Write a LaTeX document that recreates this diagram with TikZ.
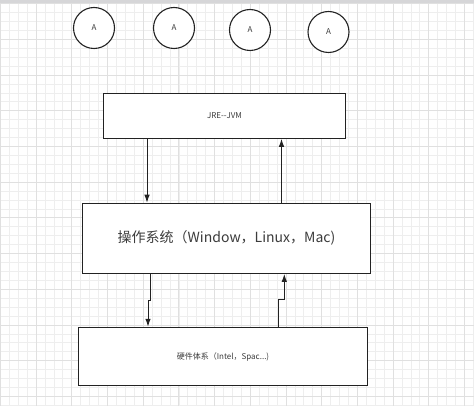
\documentclass[tikz,border=0pt]{standalone}
\usepackage{fontspec}
\setmainfont{Noto Sans CJK SC}
\usetikzlibrary{arrows.meta}
\definecolor{gridminor}{RGB}{238,238,238}
\definecolor{gridmajor}{RGB}{224,224,224}
\definecolor{topbar}{RGB}{214,214,216}
\definecolor{ink}{RGB}{34,34,34}
\definecolor{txt}{RGB}{60,60,60}
\tikzset{
  boxnode/.style={draw=ink, line width=1.1pt, fill=white, rectangle, inner sep=0pt, text=txt},
  circnode/.style={draw=ink, line width=1.1pt, fill=white, circle, minimum size=41pt, inner sep=0pt, text=txt, font=\fontsize{8}{9}\selectfont},
  arr/.style={draw=ink, line width=1pt, -{Latex[length=8pt,width=5.5pt]}},
  minorline/.style={draw=gridminor, line width=0.6pt},
  majorline/.style={draw=gridmajor, line width=0.8pt}
}
\begin{document}
\begin{tikzpicture}[x=1pt,y=-1pt]
\useasboundingbox (0,0) rectangle (474,406);
\fill[white] (0,0) rectangle (474,406);
% grid
\foreach \i in {0,...,53} {
  \pgfmathsetmacro\xx{0.3+8.925*\i}
  \draw[minorline] (\xx,3) -- (\xx,406);
}
\foreach \i in {0,...,45} {
  \pgfmathsetmacro\yy{3.6+8.925*\i}
  \draw[minorline] (0,\yy) -- (474,\yy);
}
\foreach \i in {0,...,13} {
  \pgfmathsetmacro\xx{0.3+35.7*\i}
  \draw[majorline] (\xx,3) -- (\xx,406);
}
\foreach \i in {0,...,11} {
  \pgfmathsetmacro\yy{3.6+35.7*\i}
  \draw[majorline] (0,\yy) -- (474,\yy);
}
\fill[topbar] (0,0) rectangle (474,3);
% circles
\node[circnode] (c1) at (94,28) {A};
\node[circnode] (c2) at (174,28) {A};
\node[circnode] (c3) at (250,30) {A};
\node[circnode] (c4) at (328.5,32) {A};
% boxes
\node[boxnode, minimum width=242.4pt, minimum height=45pt, font=\fontsize{8}{9}\selectfont] (jre) at (224.5,115.8) {JRE{-}{-}JVM};
\node[boxnode, minimum width=288.4pt, minimum height=70pt, font=\fontsize{14}{16}\selectfont] (os) at (226.5,238.3) {操作系统（Window，Linux，Mac)};
\node[boxnode, minimum width=289.4pt, minimum height=58.4pt, font=\fontsize{8}{9}\selectfont] (hw) at (223,356.5) {硬件体系（Intel，Spac...)};
% connectors
\draw[arr] (jre.south -| 147,0) -- (os.north -| 147,0);
\draw[arr] (os.north -| 281.5,0) -- (jre.south -| 281.5,0);
\draw[arr] (os.south -| 150,0) -- ++(0,27) -- ++(-2,0) -- (hw.north -| 148,0);
\draw[arr] (hw.north -| 278.7,0) -- ++(0,-27) -- ++(5.6,0) -- (os.south -| 284.3,0);
\end{tikzpicture}
\end{document}
